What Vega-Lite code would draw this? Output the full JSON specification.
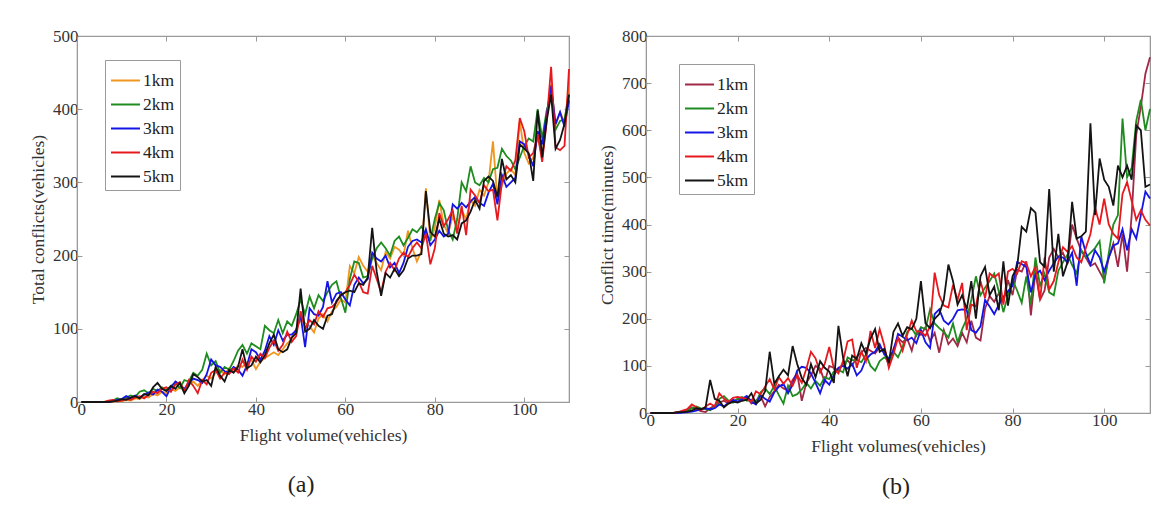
{
  "$schema": "https://vega.github.io/schema/vega-lite/v6.json",
  "background": "white",
  "padding": {"left": 28, "top": 26, "right": 10, "bottom": 4},
  "config": {
    "view": {"stroke": "#9a9a9a", "strokeWidth": 1.2},
    "axis": {
      "grid": false,
      "domainColor": "#9a9a9a",
      "tickColor": "#9a9a9a",
      "tickSize": -5,
      "labelFont": "Liberation Serif",
      "labelFontSize": 17,
      "labelColor": "#333333",
      "labelPadding": 4,
      "titleFont": "Liberation Serif",
      "titleFontSize": 17.5,
      "titleFontWeight": "normal",
      "titleColor": "#333333",
      "titlePadding": 5
    },
    "axisBottom": {"titlePadding": 9},
    "legend": {
      "orient": "none",
      "symbolType": "stroke",
      "symbolSize": 841,
      "symbolStrokeWidth": 2,
      "labelFont": "Liberation Serif",
      "labelFontSize": 17.5,
      "labelColor": "#222222",
      "labelOffset": 2,
      "strokeColor": "#9a9a9a",
      "fillColor": "white",
      "padding": 5,
      "rowPadding": -6
    },
    "title": {"font": "Liberation Serif", "fontSize": 24, "fontWeight": "normal", "color": "#222222"}
  },
  "datasets": {
    "conflicts": [
      {"x":1,"1km":0,"2km":0,"3km":0,"4km":0,"5km":0},
      {"x":2,"1km":0,"2km":0,"3km":0,"4km":0,"5km":0},
      {"x":3,"1km":0,"2km":0,"3km":0,"4km":0,"5km":0},
      {"x":4,"1km":0,"2km":0,"3km":0,"4km":0,"5km":0},
      {"x":5,"1km":0,"2km":0,"3km":0,"4km":0,"5km":0},
      {"x":6,"1km":0,"2km":0,"3km":0,"4km":0,"5km":0},
      {"x":7,"1km":1,"2km":0,"3km":0,"4km":2,"5km":0},
      {"x":8,"1km":0,"2km":2,"3km":1,"4km":3,"5km":1},
      {"x":9,"1km":2,"2km":5,"3km":3,"4km":1,"5km":2},
      {"x":10,"1km":1,"2km":3,"3km":4,"4km":2,"5km":4},
      {"x":11,"1km":3,"2km":6,"3km":8,"4km":4,"5km":3},
      {"x":12,"1km":2,"2km":9,"3km":5,"4km":3,"5km":6},
      {"x":13,"1km":5,"2km":7,"3km":9,"4km":6,"5km":8},
      {"x":14,"1km":4,"2km":14,"3km":6,"4km":8,"5km":5},
      {"x":15,"1km":8,"2km":16,"3km":10,"4km":5,"5km":11},
      {"x":16,"1km":6,"2km":12,"3km":13,"4km":10,"5km":9},
      {"x":17,"1km":11,"2km":18,"3km":10,"4km":14,"5km":20},
      {"x":18,"1km":9,"2km":15,"3km":17,"4km":12,"5km":26},
      {"x":19,"1km":14,"2km":20,"3km":14,"4km":18,"5km":18},
      {"x":20,"1km":12,"2km":16,"3km":8,"4km":20,"5km":15},
      {"x":21,"1km":18,"2km":22,"3km":20,"4km":14,"5km":22},
      {"x":22,"1km":15,"2km":26,"3km":28,"4km":24,"5km":18},
      {"x":23,"1km":20,"2km":19,"3km":24,"4km":27,"5km":26},
      {"x":24,"1km":16,"2km":30,"3km":18,"4km":15,"5km":12},
      {"x":25,"1km":24,"2km":28,"3km":26,"4km":30,"5km":22},
      {"x":26,"1km":28,"2km":40,"3km":32,"4km":22,"5km":38},
      {"x":27,"1km":22,"2km":36,"3km":30,"4km":12,"5km":34},
      {"x":28,"1km":30,"2km":44,"3km":26,"4km":30,"5km":28},
      {"x":29,"1km":36,"2km":66,"3km":38,"4km":24,"5km":30},
      {"x":30,"1km":32,"2km":50,"3km":58,"4km":40,"5km":22},
      {"x":31,"1km":40,"2km":56,"3km":50,"4km":44,"5km":48},
      {"x":32,"1km":44,"2km":40,"3km":48,"4km":32,"5km":36},
      {"x":33,"1km":38,"2km":48,"3km":42,"4km":40,"5km":28},
      {"x":34,"1km":46,"2km":44,"3km":40,"4km":38,"5km":44},
      {"x":35,"1km":42,"2km":56,"3km":48,"4km":46,"5km":40},
      {"x":36,"1km":50,"2km":70,"3km":44,"4km":40,"5km":48},
      {"x":37,"1km":48,"2km":78,"3km":36,"4km":58,"5km":72},
      {"x":38,"1km":54,"2km":66,"3km":50,"4km":44,"5km":46},
      {"x":39,"1km":58,"2km":80,"3km":72,"4km":62,"5km":50},
      {"x":40,"1km":45,"2km":76,"3km":68,"4km":55,"5km":62},
      {"x":41,"1km":55,"2km":72,"3km":58,"4km":66,"5km":54},
      {"x":42,"1km":60,"2km":104,"3km":70,"4km":60,"5km":64},
      {"x":43,"1km":64,"2km":98,"3km":90,"4km":74,"5km":80},
      {"x":44,"1km":68,"2km":94,"3km":78,"4km":84,"5km":92},
      {"x":45,"1km":64,"2km":112,"3km":98,"4km":70,"5km":72},
      {"x":46,"1km":72,"2km":94,"3km":84,"4km":78,"5km":68},
      {"x":47,"1km":80,"2km":110,"3km":92,"4km":96,"5km":72},
      {"x":48,"1km":86,"2km":104,"3km":92,"4km":82,"5km":88},
      {"x":49,"1km":100,"2km":120,"3km":98,"4km":90,"5km":94},
      {"x":50,"1km":112,"2km":140,"3km":118,"4km":124,"5km":155},
      {"x":51,"1km":108,"2km":120,"3km":75,"4km":100,"5km":96},
      {"x":52,"1km":104,"2km":144,"3km":128,"4km":112,"5km":100},
      {"x":53,"1km":95,"2km":128,"3km":120,"4km":106,"5km":112},
      {"x":54,"1km":114,"2km":146,"3km":118,"4km":124,"5km":104},
      {"x":55,"1km":120,"2km":138,"3km":130,"4km":116,"5km":100},
      {"x":56,"1km":110,"2km":150,"3km":165,"4km":128,"5km":118},
      {"x":57,"1km":124,"2km":160,"3km":136,"4km":130,"5km":120},
      {"x":58,"1km":130,"2km":165,"3km":148,"4km":136,"5km":138},
      {"x":59,"1km":140,"2km":142,"3km":150,"4km":146,"5km":146},
      {"x":60,"1km":136,"2km":122,"3km":140,"4km":150,"5km":150},
      {"x":61,"1km":186,"2km":168,"3km":132,"4km":160,"5km":152},
      {"x":62,"1km":176,"2km":192,"3km":160,"4km":174,"5km":150},
      {"x":63,"1km":198,"2km":190,"3km":170,"4km":164,"5km":162},
      {"x":64,"1km":186,"2km":170,"3km":162,"4km":150,"5km":160},
      {"x":65,"1km":178,"2km":172,"3km":168,"4km":148,"5km":170},
      {"x":66,"1km":200,"2km":196,"3km":204,"4km":186,"5km":238},
      {"x":67,"1km":190,"2km":210,"3km":196,"4km":168,"5km":178},
      {"x":68,"1km":180,"2km":218,"3km":192,"4km":150,"5km":145},
      {"x":69,"1km":205,"2km":210,"3km":200,"4km":178,"5km":176},
      {"x":70,"1km":196,"2km":200,"3km":184,"4km":190,"5km":170},
      {"x":71,"1km":212,"2km":220,"3km":190,"4km":180,"5km":182},
      {"x":72,"1km":208,"2km":226,"3km":176,"4km":196,"5km":172},
      {"x":73,"1km":200,"2km":214,"3km":190,"4km":204,"5km":180},
      {"x":74,"1km":234,"2km":224,"3km":212,"4km":198,"5km":196},
      {"x":75,"1km":210,"2km":236,"3km":220,"4km":210,"5km":200},
      {"x":76,"1km":192,"2km":232,"3km":222,"4km":218,"5km":200},
      {"x":77,"1km":206,"2km":240,"3km":218,"4km":210,"5km":202},
      {"x":78,"1km":292,"2km":228,"3km":236,"4km":230,"5km":288},
      {"x":79,"1km":220,"2km":222,"3km":214,"4km":188,"5km":232},
      {"x":80,"1km":238,"2km":250,"3km":222,"4km":210,"5km":226},
      {"x":81,"1km":276,"2km":272,"3km":234,"4km":258,"5km":250},
      {"x":82,"1km":242,"2km":262,"3km":226,"4km":240,"5km":230},
      {"x":83,"1km":230,"2km":234,"3km":230,"4km":250,"5km":226},
      {"x":84,"1km":254,"2km":222,"3km":270,"4km":262,"5km":228},
      {"x":85,"1km":238,"2km":250,"3km":264,"4km":230,"5km":222},
      {"x":86,"1km":262,"2km":300,"3km":272,"4km":268,"5km":244},
      {"x":87,"1km":250,"2km":288,"3km":266,"4km":228,"5km":248},
      {"x":88,"1km":276,"2km":322,"3km":274,"4km":290,"5km":260},
      {"x":89,"1km":268,"2km":300,"3km":280,"4km":282,"5km":276},
      {"x":90,"1km":290,"2km":296,"3km":272,"4km":272,"5km":264},
      {"x":91,"1km":282,"2km":306,"3km":268,"4km":296,"5km":302},
      {"x":92,"1km":300,"2km":300,"3km":286,"4km":288,"5km":308},
      {"x":93,"1km":356,"2km":318,"3km":298,"4km":290,"5km":302},
      {"x":94,"1km":276,"2km":320,"3km":270,"4km":248,"5km":280},
      {"x":95,"1km":296,"2km":346,"3km":310,"4km":300,"5km":332},
      {"x":96,"1km":312,"2km":336,"3km":294,"4km":322,"5km":304},
      {"x":97,"1km":318,"2km":330,"3km":300,"4km":316,"5km":310},
      {"x":98,"1km":310,"2km":318,"3km":306,"4km":330,"5km":300},
      {"x":99,"1km":384,"2km":334,"3km":356,"4km":388,"5km":352},
      {"x":100,"1km":340,"2km":350,"3km":352,"4km":370,"5km":346},
      {"x":101,"1km":326,"2km":360,"3km":338,"4km":334,"5km":340},
      {"x":102,"1km":334,"2km":356,"3km":322,"4km":340,"5km":302},
      {"x":103,"1km":362,"2km":400,"3km":370,"4km":366,"5km":398},
      {"x":104,"1km":336,"2km":360,"3km":352,"4km":328,"5km":334},
      {"x":105,"1km":388,"2km":398,"3km":392,"4km":382,"5km":384},
      {"x":106,"1km":434,"2km":420,"3km":432,"4km":458,"5km":420},
      {"x":107,"1km":378,"2km":372,"3km":380,"4km":348,"5km":346},
      {"x":108,"1km":396,"2km":384,"3km":396,"4km":344,"5km":358},
      {"x":109,"1km":382,"2km":386,"3km":376,"4km":350,"5km":380},
      {"x":110,"1km":430,"2km":420,"3km":412,"4km":455,"5km":420}
    ],
    "conflictTime": [
      {"x":1,"1km":0,"2km":0,"3km":0,"4km":0,"5km":0},
      {"x":2,"1km":0,"2km":0,"3km":0,"4km":0,"5km":0},
      {"x":3,"1km":0,"2km":0,"3km":0,"4km":0,"5km":0},
      {"x":4,"1km":0,"2km":0,"3km":0,"4km":0,"5km":0},
      {"x":5,"1km":0,"2km":0,"3km":0,"4km":0,"5km":0},
      {"x":6,"1km":0,"2km":0,"3km":0,"4km":0,"5km":0},
      {"x":7,"1km":2,"2km":1,"3km":0,"4km":2,"5km":2},
      {"x":8,"1km":3,"2km":2,"3km":1,"4km":5,"5km":2},
      {"x":9,"1km":6,"2km":4,"3km":2,"4km":8,"5km":3},
      {"x":10,"1km":12,"2km":10,"3km":3,"4km":18,"5km":5},
      {"x":11,"1km":8,"2km":14,"3km":5,"4km":12,"5km":10},
      {"x":12,"1km":4,"2km":10,"3km":8,"4km":6,"5km":8},
      {"x":13,"1km":2,"2km":8,"3km":10,"4km":14,"5km":12},
      {"x":14,"1km":10,"2km":6,"3km":8,"4km":20,"5km":70},
      {"x":15,"1km":16,"2km":12,"3km":10,"4km":14,"5km":30},
      {"x":16,"1km":22,"2km":30,"3km":18,"4km":42,"5km":26},
      {"x":17,"1km":26,"2km":36,"3km":14,"4km":30,"5km":12},
      {"x":18,"1km":20,"2km":26,"3km":22,"4km":24,"5km":20},
      {"x":19,"1km":24,"2km":22,"3km":28,"4km":32,"5km":24},
      {"x":20,"1km":30,"2km":30,"3km":24,"4km":34,"5km":22},
      {"x":21,"1km":28,"2km":34,"3km":30,"4km":32,"5km":26},
      {"x":22,"1km":34,"2km":26,"3km":36,"4km":30,"5km":28},
      {"x":23,"1km":20,"2km":28,"3km":24,"4km":24,"5km":42},
      {"x":24,"1km":26,"2km":22,"3km":18,"4km":46,"5km":20},
      {"x":25,"1km":36,"2km":44,"3km":38,"4km":40,"5km":28},
      {"x":26,"1km":14,"2km":52,"3km":30,"4km":56,"5km":46},
      {"x":27,"1km":34,"2km":40,"3km":24,"4km":72,"5km":130},
      {"x":28,"1km":46,"2km":58,"3km":44,"4km":50,"5km":62},
      {"x":29,"1km":60,"2km":38,"3km":56,"4km":76,"5km":78},
      {"x":30,"1km":52,"2km":20,"3km":62,"4km":62,"5km":92},
      {"x":31,"1km":48,"2km":58,"3km":42,"4km":74,"5km":80},
      {"x":32,"1km":70,"2km":36,"3km":60,"4km":58,"5km":142},
      {"x":33,"1km":84,"2km":40,"3km":90,"4km":80,"5km":104},
      {"x":34,"1km":26,"2km":50,"3km":98,"4km":64,"5km":74},
      {"x":35,"1km":64,"2km":64,"3km":96,"4km":94,"5km":60},
      {"x":36,"1km":80,"2km":52,"3km":84,"4km":130,"5km":104},
      {"x":37,"1km":100,"2km":68,"3km":64,"4km":116,"5km":76},
      {"x":38,"1km":94,"2km":58,"3km":42,"4km":86,"5km":110},
      {"x":39,"1km":66,"2km":76,"3km":70,"4km":104,"5km":96},
      {"x":40,"1km":100,"2km":72,"3km":60,"4km":140,"5km":88},
      {"x":41,"1km":96,"2km":88,"3km":80,"4km":94,"5km":64},
      {"x":42,"1km":90,"2km":92,"3km":96,"4km":84,"5km":185},
      {"x":43,"1km":104,"2km":86,"3km":100,"4km":110,"5km":118},
      {"x":44,"1km":112,"2km":118,"3km":94,"4km":152,"5km":78},
      {"x":45,"1km":100,"2km":112,"3km":104,"4km":156,"5km":122},
      {"x":46,"1km":120,"2km":112,"3km":80,"4km":96,"5km":114},
      {"x":47,"1km":128,"2km":108,"3km":90,"4km":130,"5km":148},
      {"x":48,"1km":138,"2km":124,"3km":114,"4km":110,"5km":126},
      {"x":49,"1km":132,"2km":100,"3km":124,"4km":174,"5km":158},
      {"x":50,"1km":126,"2km":90,"3km":130,"4km":138,"5km":178},
      {"x":51,"1km":140,"2km":110,"3km":146,"4km":178,"5km":130},
      {"x":52,"1km":130,"2km":118,"3km":124,"4km":144,"5km":136},
      {"x":53,"1km":100,"2km":110,"3km":116,"4km":96,"5km":106},
      {"x":54,"1km":136,"2km":130,"3km":132,"4km":124,"5km":172},
      {"x":55,"1km":160,"2km":118,"3km":168,"4km":160,"5km":190},
      {"x":56,"1km":150,"2km":140,"3km":162,"4km":132,"5km":164},
      {"x":57,"1km":158,"2km":172,"3km":154,"4km":166,"5km":182},
      {"x":58,"1km":132,"2km":180,"3km":160,"4km":196,"5km":178},
      {"x":59,"1km":170,"2km":164,"3km":148,"4km":174,"5km":200},
      {"x":60,"1km":166,"2km":182,"3km":176,"4km":172,"5km":280},
      {"x":61,"1km":182,"2km":178,"3km":150,"4km":164,"5km":190},
      {"x":62,"1km":152,"2km":220,"3km":138,"4km":184,"5km":180},
      {"x":63,"1km":170,"2km":190,"3km":210,"4km":298,"5km":200},
      {"x":64,"1km":128,"2km":180,"3km":220,"4km":250,"5km":210},
      {"x":65,"1km":176,"2km":172,"3km":196,"4km":228,"5km":240},
      {"x":66,"1km":146,"2km":160,"3km":188,"4km":224,"5km":315},
      {"x":67,"1km":158,"2km":190,"3km":200,"4km":272,"5km":280},
      {"x":68,"1km":142,"2km":150,"3km":218,"4km":240,"5km":230},
      {"x":69,"1km":170,"2km":178,"3km":220,"4km":276,"5km":250},
      {"x":70,"1km":150,"2km":200,"3km":218,"4km":176,"5km":220},
      {"x":71,"1km":196,"2km":240,"3km":176,"4km":230,"5km":280},
      {"x":72,"1km":160,"2km":290,"3km":170,"4km":226,"5km":200},
      {"x":73,"1km":154,"2km":250,"3km":184,"4km":280,"5km":290},
      {"x":74,"1km":222,"2km":266,"3km":240,"4km":244,"5km":310},
      {"x":75,"1km":248,"2km":280,"3km":226,"4km":296,"5km":250},
      {"x":76,"1km":236,"2km":296,"3km":210,"4km":288,"5km":268},
      {"x":77,"1km":254,"2km":258,"3km":230,"4km":296,"5km":218},
      {"x":78,"1km":236,"2km":214,"3km":246,"4km":230,"5km":322},
      {"x":79,"1km":282,"2km":250,"3km":258,"4km":300,"5km":228},
      {"x":80,"1km":250,"2km":282,"3km":270,"4km":306,"5km":290},
      {"x":81,"1km":304,"2km":260,"3km":320,"4km":296,"5km":310},
      {"x":82,"1km":300,"2km":234,"3km":316,"4km":322,"5km":395},
      {"x":83,"1km":322,"2km":290,"3km":310,"4km":318,"5km":385},
      {"x":84,"1km":207,"2km":230,"3km":256,"4km":290,"5km":435},
      {"x":85,"1km":300,"2km":330,"3km":294,"4km":310,"5km":425},
      {"x":86,"1km":240,"2km":270,"3km":302,"4km":240,"5km":320},
      {"x":87,"1km":260,"2km":296,"3km":282,"4km":330,"5km":310},
      {"x":88,"1km":330,"2km":256,"3km":302,"4km":262,"5km":475},
      {"x":89,"1km":348,"2km":250,"3km":318,"4km":280,"5km":300},
      {"x":90,"1km":330,"2km":302,"3km":332,"4km":320,"5km":380},
      {"x":91,"1km":340,"2km":320,"3km":330,"4km":352,"5km":290},
      {"x":92,"1km":316,"2km":336,"3km":320,"4km":342,"5km":320},
      {"x":93,"1km":400,"2km":314,"3km":340,"4km":354,"5km":448},
      {"x":94,"1km":370,"2km":296,"3km":270,"4km":330,"5km":370},
      {"x":95,"1km":344,"2km":346,"3km":375,"4km":320,"5km":375},
      {"x":96,"1km":330,"2km":330,"3km":340,"4km":350,"5km":385},
      {"x":97,"1km":312,"2km":340,"3km":315,"4km":380,"5km":615},
      {"x":98,"1km":318,"2km":350,"3km":345,"4km":436,"5km":420},
      {"x":99,"1km":300,"2km":365,"3km":330,"4km":400,"5km":540},
      {"x":100,"1km":282,"2km":275,"3km":300,"4km":455,"5km":495},
      {"x":101,"1km":330,"2km":340,"3km":330,"4km":400,"5km":480},
      {"x":102,"1km":360,"2km":400,"3km":355,"4km":380,"5km":440},
      {"x":103,"1km":310,"2km":420,"3km":360,"4km":370,"5km":525},
      {"x":104,"1km":380,"2km":625,"3km":390,"4km":465,"5km":500},
      {"x":105,"1km":300,"2km":500,"3km":345,"4km":490,"5km":525},
      {"x":106,"1km":420,"2km":520,"3km":390,"4km":450,"5km":495},
      {"x":107,"1km":590,"2km":620,"3km":370,"4km":410,"5km":610},
      {"x":108,"1km":650,"2km":665,"3km":420,"4km":430,"5km":600},
      {"x":109,"1km":720,"2km":600,"3km":470,"4km":410,"5km":480},
      {"x":110,"1km":755,"2km":645,"3km":455,"4km":398,"5km":485}
    ]
  },
  "spacing": 23,
  "hconcat": [
    {
      "width": 492,
      "height": 366,
      "data": {"name": "conflicts"},
      "transform": [{"fold": ["1km", "2km", "3km", "4km", "5km"], "as": ["series", "value"]}],
      "title": {"text": "(a)", "orient": "bottom", "anchor": "middle", "frame": "bounds", "offset": 29},
      "layer": [
        {
          "mark": {"type": "line", "strokeWidth": 1.8},
          "encoding": {
            "x": {"field": "x", "type": "quantitative", "scale": {"domain": [0, 110], "nice": false},
                  "axis": {"title": "Flight volume(vehicles)", "values": [0, 20, 40, 60, 80, 100]}},
            "y": {"field": "value", "type": "quantitative", "scale": {"domain": [0, 500], "nice": false},
                  "axis": {"title": "Total conflicts(vehicles)", "values": [0, 100, 200, 300, 400, 500]}},
            "color": {"field": "series", "type": "nominal",
                      "scale": {"domain": ["1km", "2km", "3km", "4km", "5km"],
                                "range": ["#f0961e", "#1e8c1e", "#1414e6", "#e6191e", "#141414"]},
                      "legend": {"title": null, "legendX": 28, "legendY": 24}}
          }
        },
        {
          "mark": {"type": "point", "opacity": 0},
          "encoding": {
            "x": {"field": "x", "type": "quantitative",
                  "axis": {"orient": "top", "labels": false, "title": null, "values": [0, 20, 40, 60, 80, 100]}},
            "y": {"field": "value", "type": "quantitative",
                  "axis": {"orient": "right", "labels": false, "title": null, "values": [0, 100, 200, 300, 400, 500]}}
          }
        }
      ],
      "resolve": {"axis": {"x": "independent", "y": "independent"}}
    },
    {
      "width": 504,
      "height": 377,
      "data": {"name": "conflictTime"},
      "transform": [{"fold": ["1km", "2km", "3km", "4km", "5km"], "as": ["series", "value"]}],
      "title": {"text": "(b)", "orient": "bottom", "anchor": "middle", "frame": "bounds", "offset": 20, "dx": 20},
      "layer": [
        {
          "mark": {"type": "line", "strokeWidth": 1.8},
          "encoding": {
            "x": {"field": "x", "type": "quantitative", "scale": {"domain": [0, 110], "nice": false},
                  "axis": {"title": "Flight volumes(vehicles)", "values": [0, 20, 40, 60, 80, 100]}},
            "y": {"field": "value", "type": "quantitative", "scale": {"domain": [0, 800], "nice": false},
                  "axis": {"title": "Conflict time(minutes)", "values": [0, 100, 200, 300, 400, 500, 600, 700, 800]}},
            "color": {"field": "series", "type": "nominal",
                      "scale": {"domain": ["1km", "2km", "3km", "4km", "5km"],
                                "range": ["#a02846", "#1e8c1e", "#1414e6", "#e6191e", "#141414"]},
                      "legend": {"title": null, "legendX": 33, "legendY": 28}}
          }
        },
        {
          "mark": {"type": "point", "opacity": 0},
          "encoding": {
            "x": {"field": "x", "type": "quantitative",
                  "axis": {"orient": "top", "labels": false, "title": null, "values": [0, 20, 40, 60, 80, 100]}},
            "y": {"field": "value", "type": "quantitative",
                  "axis": {"orient": "right", "labels": false, "title": null, "values": [0, 100, 200, 300, 400, 500, 600, 700, 800]}}
          }
        }
      ],
      "resolve": {"axis": {"x": "independent", "y": "independent"}}
    }
  ],
  "resolve": {"scale": {"x": "independent", "y": "independent", "color": "independent"}}
}
